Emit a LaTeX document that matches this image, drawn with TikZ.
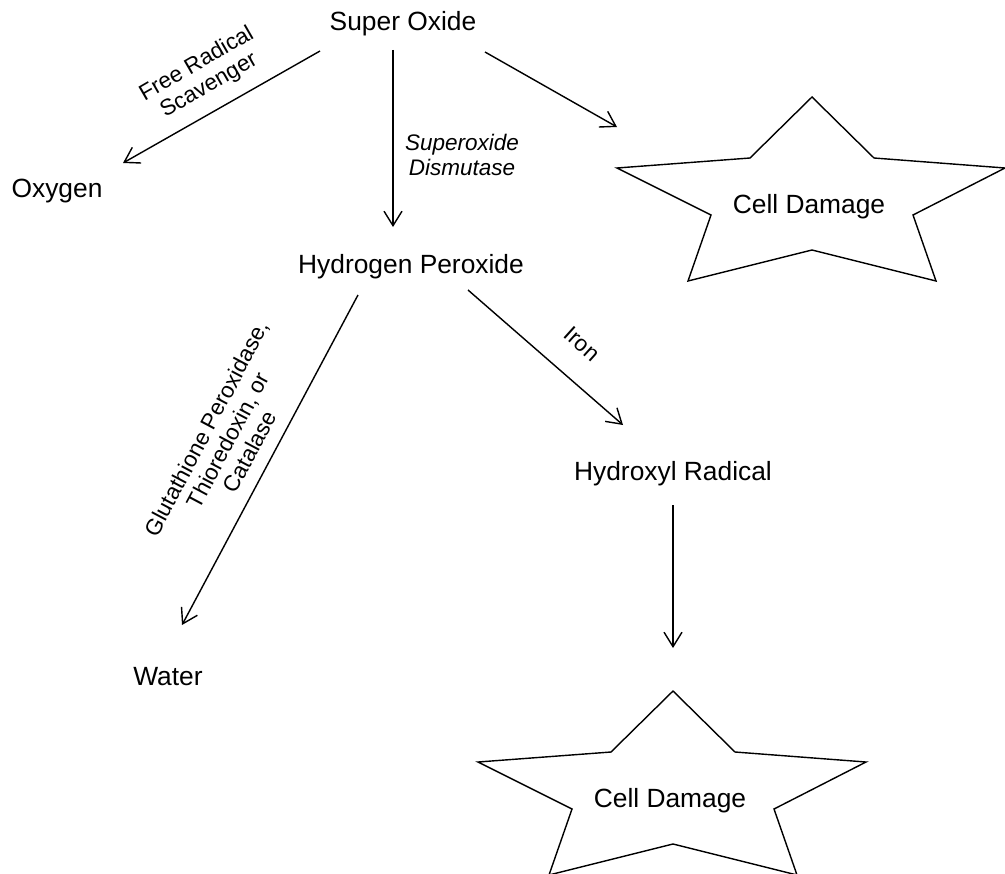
\documentclass[tikz,border=0pt]{standalone}
\usepackage{fontspec}
\setmainfont{Liberation Sans}
\usetikzlibrary{arrows.meta,positioning}
\tikzset{
  species/.style={anchor=base,inner sep=0pt,font=\fontsize{15}{18}\selectfont},
  enzyme/.style={align=center,inner sep=0pt,font=\fontsize{12.8}{14}\selectfont},
  react/.style={-{Straight Barb[length=2.9mm,width=3.6mm]},line width=0.8pt},
  damage/.style={draw,line width=0.8pt,line join=miter}
}
\begin{document}
\begin{tikzpicture}[x=0.2mm,y=-0.2mm]
  \useasboundingbox (0,0) rectangle (1005,873);
  \node[species] (so) at (403,31) {Super Oxide};
  \node[species] (oxy) at (57,197) {Oxygen};
  \node[species] (hp) at (411,273) {Hydrogen Peroxide};
  \node[species] (hr) at (673,480) {Hydroxyl Radical};
  \node[species] (wat) at (168,685) {Water};
  \node[species] (cd1) at (809,213) {Cell Damage};
  \node[species] (cd2) at (670,807) {Cell Damage};
  \foreach \c in {cd1,cd2}
    \draw[damage,shift={(\c.base)}] (3,-116) -- (65,-55) -- (196,-45) -- (104,2) -- (127,68)
      -- (3,37) -- (-121,68) -- (-98,2) -- (-192,-45) -- (-59,-55) -- cycle;
  \draw[react] ([shift={(-83,20)}]so.base) -- ([shift={(66,-34)}]oxy.base);
  \draw[react] ([shift={(-10,19)}]so.base) -- ([shift={(-18,-46)}]hp.base);
  \draw[react] ([shift={(82,21)}]so.base) -- ([shift={(-192,-86)}]cd1.base);
  \draw[react] ([shift={(-53,22)}]hp.base) -- ([shift={(14,-60)}]wat.base);
  \draw[react] ([shift={(57,17)}]hp.base) -- ([shift={(-50,-55)}]hr.base);
  \draw[react] ([shift={(0,25)}]hr.base) -- ([shift={(3,-159)}]cd2.base);
  \node[enzyme,rotate=30] (frs) at (203,75) {Free Radical\\Scavenger};
  \node[enzyme,font=\fontsize{12.8}{14}\selectfont\itshape] (sod) at (462,155) {Superoxide\\Dismutase};
  \node[enzyme,rotate=62] (gpx) at (228,440) {Glutathione Peroxidase,\\Thioredoxin, or\\Catalase};
  \node[enzyme,rotate=-42] (fe) at (582,344) {Iron};
\end{tikzpicture}
\end{document}
